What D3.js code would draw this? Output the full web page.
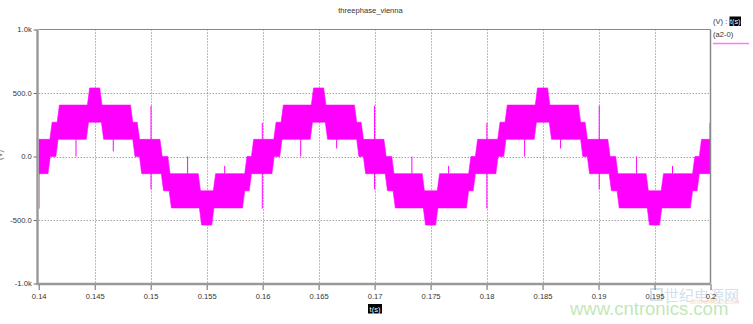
<!DOCTYPE html>
<html>
<head>
<meta charset="utf-8">
<script src="https://cdn.jsdelivr.net/npm/d3@7/dist/d3.min.js"></script>
<style>
body { margin: 0; background: #fff; }
text { font-family: "Liberation Sans", Arial, sans-serif; }
</style>
</head>
<body>
<svg id="chart" width="753" height="324"></svg>
<script>
var title = "threephase_vienna";
var xTicks = [0.14, 0.145, 0.15, 0.155, 0.16, 0.165, 0.17, 0.175, 0.18, 0.185, 0.19, 0.195, 0.2];
var xTickLabels = ["0.14", "0.145", "0.15", "0.155", "0.16", "0.165", "0.17", "0.175", "0.18", "0.185", "0.19", "0.195", "0.2"];
var yTicks = [-1000, -500, 0, 500, 1000];
var yTickLabels = ["-1.0k", "-500.0", "0.0", "500.0", "1.0k"];
var xName = "t(s)";
var yName = "(V)";
var seriesName = "(a2-0)";

// top edge of the pwm band, [t, V]
var upperEdge = [
    [0.14, 135],
    [0.1410, 135], [0.1412, 270], [0.14165, 270], [0.14185, 405],
    [0.14435, 405], [0.14455, 540], [0.14545, 540], [0.14565, 405],
    [0.1482, 405], [0.1484, 270], [0.1488, 270], [0.1490, 135],
    [0.15083, 135], [0.15103, 0], [0.15153, 0], [0.15173, -135],
    [0.15425, -135], [0.15445, -270], [0.1556, -270], [0.1558, -135],
    [0.1584, -135], [0.1586, 0], [0.1590, 0], [0.1592, 135],
    [0.1610, 135], [0.1612, 270], [0.16165, 270], [0.16185, 405],
    [0.16435, 405], [0.16455, 540], [0.16545, 540], [0.16565, 405],
    [0.1682, 405], [0.1684, 270], [0.1688, 270], [0.1690, 135],
    [0.17083, 135], [0.17103, 0], [0.17153, 0], [0.17173, -135],
    [0.17425, -135], [0.17445, -270], [0.1756, -270], [0.1758, -135],
    [0.1784, -135], [0.1786, 0], [0.1790, 0], [0.1792, 135],
    [0.1810, 135], [0.1812, 270], [0.18165, 270], [0.18185, 405],
    [0.18435, 405], [0.18455, 540], [0.18545, 540], [0.18565, 405],
    [0.1882, 405], [0.1884, 270], [0.1888, 270], [0.1890, 135],
    [0.19083, 135], [0.19103, 0], [0.19153, 0], [0.19173, -135],
    [0.19425, -135], [0.19445, -270], [0.1956, -270], [0.1958, -135],
    [0.1984, -135], [0.1986, 0], [0.1990, 0], [0.1992, 135],
    [0.2, 135]
];

// bottom edge of the pwm band, [t, V]
var lowerEdge = [
    [0.14, -135],
    [0.14083, -135], [0.14103, 0], [0.14153, 0], [0.14173, 135],
    [0.14425, 135], [0.14445, 270], [0.1456, 270], [0.1458, 135],
    [0.1484, 135], [0.1486, 0], [0.1490, 0], [0.1492, -135],
    [0.15095, -135], [0.15115, -270], [0.15165, -270], [0.15185, -405],
    [0.15435, -405], [0.15455, -540], [0.15545, -540], [0.15565, -405],
    [0.1582, -405], [0.1584, -270], [0.1588, -270], [0.1590, -135],
    [0.16083, -135], [0.16103, 0], [0.16153, 0], [0.16173, 135],
    [0.16425, 135], [0.16445, 270], [0.1656, 270], [0.1658, 135],
    [0.1684, 135], [0.1686, 0], [0.1690, 0], [0.1692, -135],
    [0.17095, -135], [0.17115, -270], [0.17165, -270], [0.17185, -405],
    [0.17435, -405], [0.17455, -540], [0.17545, -540], [0.17565, -405],
    [0.1782, -405], [0.1784, -270], [0.1788, -270], [0.1790, -135],
    [0.18083, -135], [0.18103, 0], [0.18153, 0], [0.18173, 135],
    [0.18425, 135], [0.18445, 270], [0.1856, 270], [0.1858, 135],
    [0.1884, 135], [0.1886, 0], [0.1890, 0], [0.1892, -135],
    [0.19095, -135], [0.19115, -270], [0.19165, -270], [0.19185, -405],
    [0.19435, -405], [0.19455, -540], [0.19545, -540], [0.19565, -405],
    [0.1982, -405], [0.1984, -270], [0.1988, -270], [0.1990, -135],
    [0.2, -135]
];

// switching spikes, [t, from V, to V]
var spikes = [
    [0.14003, -410, 135], [0.14333, 0, 135], [0.14666, 40, 135],
    [0.15003, -258, 400], [0.15330, -135, 0], [0.15661, -135, -74],
    [0.15997, -410, 265], [0.16340, 0, 135], [0.16661, 63, 135],
    [0.17000, -258, 400], [0.17333, -135, 0], [0.17661, -135, -74],
    [0.18003, -410, 265], [0.18340, 0, 135], [0.18661, 63, 135],
    [0.19006, -258, 400], [0.19340, -135, 0], [0.19661, -135, -74],
    [0.19996, 135, 265]
];

var svg = d3.select("#chart");
// note: "top" is taken by window.top, so plot edges get their own names
var plotLeft = 38.7, plotRight = 710.5, plotTop = 29.5, plotBottom = 283.5;

var x = d3.scaleLinear().domain([0.14, 0.2]).range([plotLeft, plotRight]);
var y = d3.scaleLinear().domain([-1000, 1000]).range([plotBottom, plotTop]);

// watermark goes underneath everything
svg.append("text")
    .attr("x", 664).attr("y", 301)
    .attr("fill", "#d3e0ee").style("font-size", "15px")
    .style("font-family", "'Noto Sans CJK SC', sans-serif")
    .text("世纪电源网");
svg.append("rect")
    .attr("x", 651).attr("y", 289).attr("width", 11).attr("height", 11)
    .attr("fill", "none").attr("stroke", "#d3e0ee").attr("stroke-width", 2);
svg.append("text")
    .attr("x", 690).attr("y", 304)
    .attr("fill", "#f7dccb").style("font-size", "8px")
    .text("cntronics.com");
svg.append("text")
    .attr("x", 570).attr("y", 314.5)
    .attr("fill", "#b6e2aa").attr("fill-opacity", 0.85)
    .style("font-size", "18.5px")
    .text("www.cntronics.com");

svg.append("defs").append("clipPath").attr("id", "plotclip")
    .append("rect")
    .attr("x", plotLeft).attr("y", plotTop)
    .attr("width", plotRight - plotLeft).attr("height", plotBottom - plotTop);

// dotted grid
svg.append("g").selectAll("line")
    .data(xTicks.slice(1, -1))
    .enter().append("line")
    .attr("x1", function(d) { return Math.round(x(d)) + 0.5; })
    .attr("x2", function(d) { return Math.round(x(d)) + 0.5; })
    .attr("y1", plotTop).attr("y2", plotBottom)
    .attr("stroke", "#777").attr("stroke-width", 1)
    .attr("stroke-dasharray", "1,2");

svg.append("g").selectAll("line")
    .data(yTicks.slice(1, -1))
    .enter().append("line")
    .attr("x1", plotLeft).attr("x2", plotRight)
    .attr("y1", function(d) { return Math.round(y(d)) + 0.5; })
    .attr("y2", function(d) { return Math.round(y(d)) + 0.5; })
    .attr("stroke", "#777").attr("stroke-width", 1)
    .attr("stroke-dasharray", "1,2");

// band
var edge = d3.line()
    .x(function(d) { return x(d[0]); })
    .y(function(d) { return y(d[1]); });

var plot = svg.append("g").attr("clip-path", "url(#plotclip)");

plot.append("path")
    .attr("d", edge(upperEdge.concat(lowerEdge.slice().reverse())) + "Z")
    .attr("fill", "#ff00ff")
    .attr("stroke", "#ff00ff")
    .attr("stroke-width", 0.6);

plot.selectAll(".spike")
    .data(spikes)
    .enter().append("line")
    .attr("class", "spike")
    .attr("x1", function(d) { return x(d[0]); })
    .attr("x2", function(d) { return x(d[0]); })
    .attr("y1", function(d) { return y(d[1]); })
    .attr("y2", function(d) { return y(d[2]); })
    .attr("stroke", "#ff00ff")
    .attr("stroke-width", 1);

// frame
svg.append("line")
    .attr("x1", plotLeft).attr("x2", plotRight).attr("y1", plotTop).attr("y2", plotTop)
    .attr("stroke", "#888").attr("stroke-width", 1);
svg.append("line")
    .attr("x1", plotRight).attr("x2", plotRight).attr("y1", plotTop).attr("y2", plotBottom)
    .attr("stroke", "#888").attr("stroke-width", 1.5);

// axes
var xAxis = d3.axisBottom(x)
    .tickValues(xTicks)
    .tickFormat(function(d, i) { return xTickLabels[i]; })
    .tickSize(6).tickSizeOuter(0).tickPadding(4);

var gx = svg.append("g")
    .attr("transform", "translate(0," + (plotBottom + 0.5) + ")")
    .call(xAxis);
gx.select(".domain").remove();
gx.selectAll(".tick line").attr("stroke", "#666");
gx.selectAll("text").attr("fill", "#333").style("font-size", "7.6px");

var yAxis = d3.axisLeft(y)
    .tickValues(yTicks)
    .tickFormat(function(d, i) { return yTickLabels[i]; })
    .tickSize(4).tickSizeOuter(0).tickPadding(2);

var gy = svg.append("g")
    .attr("transform", "translate(" + (plotLeft - 1) + ",0)")
    .call(yAxis);
gy.select(".domain").remove();
gy.selectAll(".tick line").attr("stroke", "#666");
gy.selectAll("text").attr("fill", "#333").style("font-size", "7.6px");

svg.append("line")
    .attr("x1", plotLeft - 1.2).attr("x2", plotLeft - 1.2).attr("y1", plotTop).attr("y2", plotBottom + 1.5)
    .attr("stroke", "#999").attr("stroke-width", 2.4);
svg.append("line")
    .attr("x1", plotLeft - 2).attr("x2", plotRight).attr("y1", plotBottom + 0.5).attr("y2", plotBottom + 0.5)
    .attr("stroke", "#999").attr("stroke-width", 2.4);

// titles
svg.append("text")
    .attr("x", 370.5).attr("y", 12.5)
    .attr("text-anchor", "middle")
    .attr("fill", "#333").style("font-size", "7.6px")
    .text(title);

svg.append("rect")
    .attr("x", 368).attr("y", 304).attr("width", 14).attr("height", 9.5)
    .attr("fill", "#000");
svg.append("text")
    .attr("x", 375).attr("y", 311.5)
    .attr("text-anchor", "middle")
    .attr("fill", "#fff").style("font-size", "7.6px")
    .text(xName);

// the y name sits against the left edge, mostly cut off as in the original
svg.append("text")
    .attr("transform", "translate(1.5,155) rotate(-90)")
    .attr("text-anchor", "middle")
    .attr("fill", "#666").style("font-size", "7.6px")
    .text(yName);

// legend
svg.append("text")
    .attr("x", 713).attr("y", 23.5)
    .attr("fill", "#333").style("font-size", "7.6px")
    .text("(V) : ");
svg.append("rect")
    .attr("x", 729.5).attr("y", 16.5).attr("width", 11.5).attr("height", 9.5)
    .attr("fill", "#000");
svg.append("text")
    .attr("x", 735.2).attr("y", 23.8)
    .attr("text-anchor", "middle")
    .attr("fill", "#fff").style("font-size", "7.2px")
    .text(xName);
svg.append("text")
    .attr("x", 713).attr("y", 37)
    .attr("fill", "#333").style("font-size", "7.6px")
    .text(seriesName);
svg.append("line")
    .attr("x1", 713).attr("x2", 749).attr("y1", 43.5).attr("y2", 43.5)
    .attr("stroke", "#ff77ff").attr("stroke-width", 1.3);
</script>
</body>
</html>
